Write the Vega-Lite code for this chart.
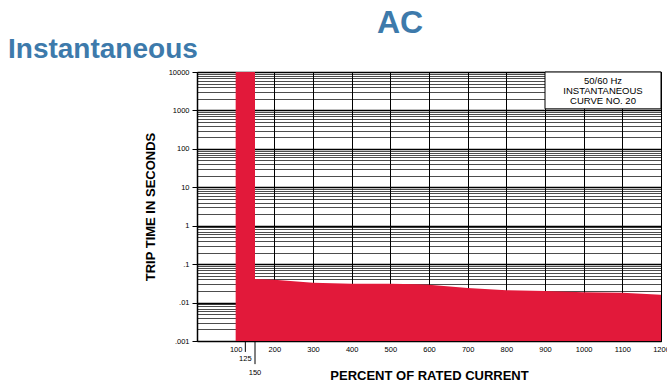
{
  "$schema": "https://vega.github.io/schema/vega-lite/v6.json",
  "width": 464,
  "height": 269,
  "autosize": {"type": "none"},
  "padding": {"left": 197, "top": 72, "right": 6, "bottom": 43},
  "background": "white",
  "title": {"text": "AC", "anchor": "middle", "dx": -29, "dy": 31, "font": "Liberation Sans", "fontSize": 32, "fontWeight": "bold", "color": "#3d7aab", "baseline": "alphabetic", "offset": 2},
  "config": {"view": {"stroke": "black", "strokeWidth": 1}},
  "datasets": {
    "bar": [
      {"from": 100, "to": 150, "low": 0.001, "high": 10000}
    ],
    "curve": [
      {"current": 150, "time": 0.041},
      {"current": 200, "time": 0.039},
      {"current": 300, "time": 0.033},
      {"current": 400, "time": 0.031},
      {"current": 500, "time": 0.031},
      {"current": 570, "time": 0.030},
      {"current": 600, "time": 0.029},
      {"current": 700, "time": 0.024},
      {"current": 800, "time": 0.021},
      {"current": 900, "time": 0.020},
      {"current": 1000, "time": 0.0185},
      {"current": 1100, "time": 0.018},
      {"current": 1200, "time": 0.016}
    ],
    "marks": [
      {"current": 125, "label": "125", "top": 0.001, "tip": 0.00052, "labely": 0.00034},
      {"current": 150, "label": "150", "top": 0.001, "tip": 0.00025, "labely": 0.000147}
    ],
    "box": [
      {"x1": 900, "x2": 1200, "y1": 10000, "y2": 1100, "xc": 1050, "yc": 5800, "label": "50/60 Hz\nINSTANTANEOUS\nCURVE NO. 20"}
    ]
  },
  "layer": [
    {
      "data": {"name": "curve"},
      "mark": {"type": "area", "color": "#e2193a", "opacity": 1},
      "encoding": {
        "x": {
          "field": "current", "type": "quantitative",
          "scale": {"domain": [0, 1200], "nice": false},
          "axis": {
            "values": [100, 200, 300, 400, 500, 600, 700, 800, 900, 1000, 1100, 1200],
            "format": "d",
            "labelFont": "Liberation Sans", "labelFontSize": 7.5, "labelColor": "black",
            "labelOverlap": false, "labelFlush": false, "labelPadding": 4,
            "ticks": false,
            "grid": true, "gridColor": "black", "gridWidth": 1, "gridOpacity": 1,
            "domainColor": "black", "domainWidth": 1,
            "title": "PERCENT OF RATED CURRENT",
            "titleFont": "Liberation Sans", "titleFontSize": 13, "titleFontWeight": "bold", "titleColor": "black",
            "titleX": 232, "titleY": 38, "titleAlign": "center", "titleBaseline": "alphabetic"
          }
        },
        "y": {
          "field": "time", "type": "quantitative",
          "stack": null,
          "scale": {"type": "log", "domain": [0.001, 10000], "nice": false},
          "axis": {
            "values": [0.001,0.002,0.003,0.004,0.005,0.006,0.007,0.008,0.009,0.01,0.02,0.03,0.04,0.05,0.06,0.07,0.08,0.09,0.1,0.2,0.3,0.4,0.5,0.6,0.7,0.8,0.9,1,2,3,4,5,6,7,8,9,10,20,30,40,50,60,70,80,90,100,200,300,400,500,600,700,800,900,1000,2000,3000,4000,5000,6000,7000,8000,9000,10000],
            "labelExpr": "abs(log(datum.value)/LN10 - round(log(datum.value)/LN10)) < 0.000001 ? (datum.value >= 1 ? format(datum.value, 'd') : replace(format(datum.value, '.3~f'), '0.', '.')) : ''",
            "labelOverlap": false,
            "labelFont": "Liberation Sans", "labelFontSize": 7.5, "labelColor": "black", "labelPadding": 3,
            "tickColor": "black", "tickSize": 5,
            "tickOpacity": {"condition": {"test": "abs(log(datum.value)/LN10 - round(log(datum.value)/LN10)) < 0.000001", "value": 1}, "value": 0},
            "grid": true, "gridColor": "black", "gridOpacity": 1,
            "gridWidth": {"condition": {"test": "abs(log(datum.value)/LN10 - round(log(datum.value)/LN10)) < 0.000001", "value": 1.6}, "value": 0.7},
            "domainColor": "black", "domainWidth": 1.5,
            "title": "TRIP TIME IN SECONDS",
            "titleFont": "Liberation Sans", "titleFontSize": 13, "titleFontWeight": "bold", "titleColor": "black",
            "titleX": -47, "titleY": 134.5, "titleAlign": "center", "titleBaseline": "middle", "titleAngle": -90
          }
        },
        "y2": {"datum": 0.001}
      }
    },
    {
      "data": {"name": "bar"},
      "mark": {"type": "rect", "color": "#e2193a"},
      "encoding": {
        "x": {"field": "from", "type": "quantitative"},
        "x2": {"field": "to"},
        "y": {"field": "high", "type": "quantitative"},
        "y2": {"field": "low"}
      }
    },
    {
      "data": {"name": "marks"},
      "mark": {"type": "rule", "color": "black", "strokeWidth": 1},
      "encoding": {
        "x": {"field": "current", "type": "quantitative"},
        "y": {"field": "top", "type": "quantitative"},
        "y2": {"field": "tip"}
      }
    },
    {
      "data": {"name": "marks"},
      "mark": {"type": "text", "font": "Liberation Sans", "fontSize": 7.5, "align": "center", "baseline": "middle", "color": "black"},
      "encoding": {
        "x": {"field": "current", "type": "quantitative"},
        "y": {"field": "labely", "type": "quantitative"},
        "text": {"field": "label"}
      }
    },
    {
      "data": {"name": "box"},
      "mark": {"type": "rect", "fill": "white", "stroke": "black", "strokeWidth": 1},
      "encoding": {
        "x": {"field": "x1", "type": "quantitative"},
        "x2": {"field": "x2"},
        "y": {"field": "y1", "type": "quantitative"},
        "y2": {"field": "y2"}
      }
    },
    {
      "data": {"name": "box"},
      "mark": {"type": "text", "font": "Liberation Sans", "fontSize": 9.5, "lineBreak": "\n", "lineHeight": 10, "align": "center", "baseline": "middle", "color": "black"},
      "encoding": {
        "x": {"field": "xc", "type": "quantitative"},
        "y": {"field": "yc", "type": "quantitative"},
        "text": {"field": "label"}
      }
    },
    {
      "data": {"values": [{"heading": "Instantaneous"}]},
      "mark": {"type": "text", "x": -189, "y": -14, "align": "left", "baseline": "alphabetic", "font": "Liberation Sans", "fontSize": 28, "fontWeight": "bold", "color": "#3d7aab"},
      "encoding": {"text": {"field": "heading"}}
    }
  ]
}
